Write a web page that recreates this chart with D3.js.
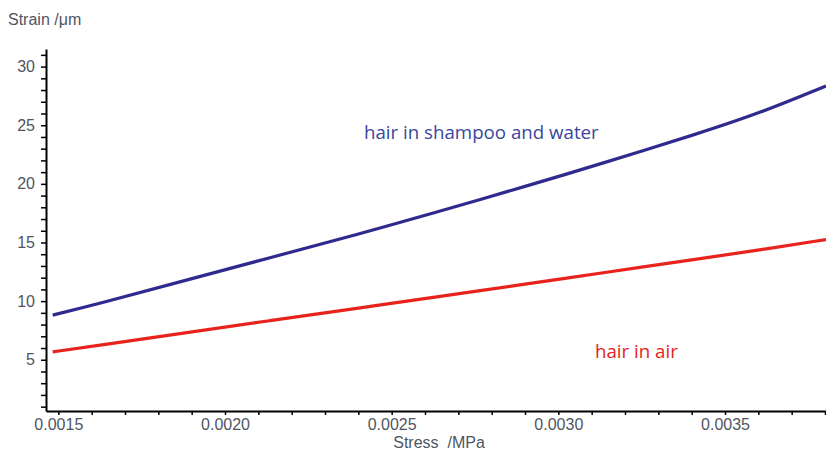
<!DOCTYPE html>
<html>
<head>
<meta charset="utf-8">
<script src="https://cdn.jsdelivr.net/npm/d3@7/dist/d3.min.js"></script>
<style>
  html, body { margin: 0; padding: 0; background: #fff; }
  svg { display: block; }
  .axis text { font-family: "Liberation Sans", Arial, sans-serif; font-size: 16px; fill: #4f5561; }
  .axis path, .axis line { stroke: #000; }
</style>
</head>
<body>
<svg id="chart" width="826" height="450"></svg>
<script>
// Stress (MPa) sample points shared by both curves
const stress = [0.001483, 0.001625, 0.001865, 0.002135, 0.002405, 0.002615,
                0.002915, 0.003125, 0.003425, 0.003605, 0.003803];
// Strain (µm) for hair in shampoo and water
const strainShampoo = [8.81, 9.80, 11.65, 13.70, 15.75, 17.42, 19.90, 21.69, 24.33, 26.04, 28.35];
// Strain (µm) for hair in air
const strainAir = [5.67, 6.24, 7.22, 8.34, 9.42, 10.28, 11.50, 12.38, 13.62, 14.37, 15.25];

const seriesNames = ["hair in shampoo and water", "hair in air"];
const xMajorTicks = [0.0015, 0.0020, 0.0025, 0.0030, 0.0035];
const yMajorTicks = [5, 10, 15, 20, 25, 30];

const plotLeft = 46, plotRight = 826, plotTop = 49, plotBottom = 411;

const svg = d3.select("#chart");

const x = d3.scaleLinear().domain([0.001463, 0.003803]).range([plotLeft, plotRight]);
const y = d3.scaleLinear().domain([0.63, 31.5]).range([plotBottom, plotTop]);

svg.append("defs").append("clipPath").attr("id", "plot")
  .append("rect").attr("x", plotLeft).attr("y", plotTop - 10)
  .attr("width", plotRight - plotLeft).attr("height", plotBottom - plotTop + 10);

// Curves
const line = d3.line()
  .x(d => x(d[0]))
  .y(d => y(d[1]))
  .curve(d3.curveBasis);

const plot = svg.append("g").attr("clip-path", "url(#plot)");
plot.append("path")
  .datum(stress.map((s, i) => [s, strainShampoo[i]]))
  .attr("d", line)
  .attr("fill", "none")
  .attr("stroke", "#2f2a8e")
  .attr("stroke-width", 3.2);
plot.append("path")
  .datum(stress.map((s, i) => [s, strainAir[i]]))
  .attr("d", line)
  .attr("fill", "none")
  .attr("stroke", "#e8231d")
  .attr("stroke-width", 3.2);

// Y axis: minor ticks every 1 µm, labels every 5
const yTicks = d3.range(1, 32);
const yAxis = d3.axisLeft(y)
  .tickValues(yTicks)
  .tickSize(5)
  .tickSizeOuter(0)
  .tickPadding(6)
  .tickFormat(d => yMajorTicks.includes(d) ? d : "");
const gy = svg.append("g").attr("class", "axis")
  .attr("transform", `translate(${plotLeft},0)`)
  .call(yAxis);
gy.select(".domain").attr("stroke-width", 2);
gy.selectAll(".tick line").attr("stroke-width", 1.5);

// X axis: minor ticks every 0.0001 MPa, labels every 0.0005
const xTicks = d3.range(15, 39).map(i => i / 10000);
const fmt = d3.format(".4f");
const xAxis = d3.axisBottom(x)
  .tickValues(xTicks)
  .tickSize(4)
  .tickSizeOuter(0)
  .tickPadding(4)
  .tickFormat(d => xMajorTicks.some(t => Math.abs(t - d) < 1e-9) ? fmt(d) : "");
const gx = svg.append("g").attr("class", "axis")
  .attr("transform", `translate(0,${plotBottom})`)
  .call(xAxis);
gx.select(".domain").attr("stroke-width", 2);
gx.selectAll(".tick line").attr("stroke-width", 1.5);

// Axis titles
svg.append("text")
  .attr("x", 8).attr("y", 25)
  .attr("font-family", "Liberation Sans, Arial, sans-serif")
  .attr("font-size", 16)
  .attr("fill", "#4f5561")
  .text("Strain /\u03bcm");
svg.append("text")
  .attr("x", 439).attr("y", 448)
  .attr("text-anchor", "middle")
  .attr("font-family", "Liberation Sans, Arial, sans-serif")
  .attr("font-size", 16)
  .attr("fill", "#4f5561")
  .attr("xml:space", "preserve")
  .text("Stress  /MPa");

// Series labels
svg.append("text")
  .attr("x", 364).attr("y", 139)
  .attr("font-family", "Open Sans, Noto Sans, sans-serif")
  .attr("font-size", 18.7)
  .attr("fill", "#3b479c")
  .text(seriesNames[0]);
svg.append("text")
  .attr("x", 595).attr("y", 358)
  .attr("font-family", "Open Sans, Noto Sans, sans-serif")
  .attr("font-size", 18.7)
  .attr("fill", "#e2231b")
  .text(seriesNames[1]);
</script>
</body>
</html>
